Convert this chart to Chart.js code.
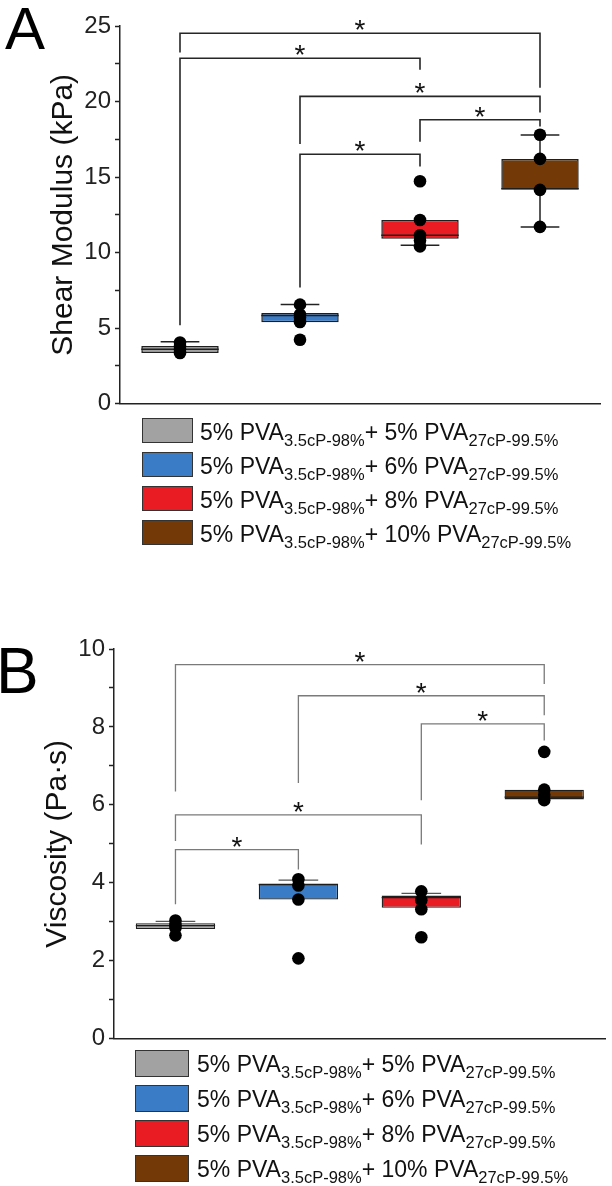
<!DOCTYPE html>
<html>
<head>
<meta charset="utf-8">
<script src="https://cdn.jsdelivr.net/npm/chart.js@4.4.1/dist/chart.umd.min.js"></script>
<style>
  html, body { margin: 0; padding: 0; background: #fff; }
  body { width: 612px; height: 1186px; position: relative; overflow: hidden; font-family: "Liberation Sans", Arial, sans-serif; color: #111; }
  canvas { position: absolute; left: 0; }
  .panel-letter { position: absolute; line-height: 1; color: #000; }
  .swatch { position: absolute; box-sizing: border-box; border: 1.5px solid #333; }
  .legend-text { position: absolute; font-size: 23px; line-height: 23px; white-space: nowrap; color: #111; }
  .legend-text sub { font-size: 16.5px; vertical-align: -6px; line-height: 0; }
</style>
</head>
<body>
<div class="panel-letter" style="left:5px;top:-1px;font-size:60px">A</div>
<canvas id="chartA" width="612" height="422" style="top:0"></canvas>
<div id="legendA"></div>
<div class="panel-letter" style="left:-4px;top:639px;font-size:64px">B</div>
<canvas id="chartB" width="612" height="437" style="top:620px"></canvas>
<div id="legendB"></div>
<script>
const FONT = '"Liberation Sans", Arial, sans-serif';

// groups = second PVA (27cP-99.5%) concentration
const groups = ["5%", "6%", "8%", "10%"];
const boxColors = ["#a2a2a2", "#3a7cc6", "#e91c24", "#733a07"];

// A: shear modulus (kPa)
const shearQ1 = [3.35, 5.39, 10.91, 14.17];
const shearQ3 = [3.81, 6.00, 12.16, 16.20];
const shearMedian = [3.60, 5.84, 11.15, 14.22];
const shearLow = [3.35, 5.39, 10.48, 11.70];
const shearHigh = [4.10, 6.56, 12.16, 17.78];
const shearPoints = [
  [4.05, 3.80, 3.60, 3.35],
  [6.55, 5.90, 5.70, 5.40, 4.23],
  [14.72, 12.16, 11.15, 10.80, 10.41],
  [17.80, 16.20, 14.15, 11.70]
];
// [from, to, top, left end, right end]
const shearBrackets = [
  [0, 3, 24.52, 23.25, 20.91],
  [0, 2, 22.86, 5.18, 22.10],
  [1, 3, 20.34, 17.19, 19.27],
  [2, 3, 18.79, 17.34, 18.35],
  [1, 2, 16.51, 7.68, 15.70]
];

// B: viscosity (Pa·s)
const viscQ1 = [2.81, 3.57, 3.36, 6.14];
const viscQ3 = [2.96, 3.98, 3.67, 6.39];
const viscMedian = [2.90, 3.95, 3.62, 6.20];
const viscLow = [2.81, 3.57, 3.36, 6.14];
const viscHigh = [3.01, 4.07, 3.73, 6.39];
const viscPoints = [
  [3.03, 2.92, 2.84, 2.65],
  [4.09, 3.93, 3.57, 2.06],
  [3.78, 3.55, 3.32, 2.60],
  [7.36, 6.39, 6.26, 6.12]
];
const viscBrackets = [
  [0, 3, 9.60, 6.34, 9.10],
  [1, 3, 8.80, 6.56, 8.30],
  [2, 3, 8.08, 6.12, 7.65],
  [0, 2, 5.74, 5.07, 4.98],
  [0, 1, 4.85, 3.45, 4.34]
];

function createBoxChart(id, cfg) {
  const extras = {
    id: 'boxExtras',
    afterDatasetDraw(chart, args) {
      if (args.meta.type !== 'bar') return;
      const {ctx, scales: {x, y}} = chart;
      ctx.save();
      ctx.lineWidth = cfg.lineWidth;
      args.meta.data.forEach((bar, i) => {
        const cx = x.getPixelForValue(i);
        const half = bar.width / 2;
        const my = y.getPixelForValue(cfg.median[i]);
        ctx.beginPath();
        ctx.strokeStyle = '#1e1e1e';
        ctx.moveTo(cx - half, my);
        ctx.lineTo(cx + half, my);
        ctx.stroke();
        ctx.strokeStyle = cfg.lineColor;
        [[cfg.q3[i], cfg.high[i]], [cfg.q1[i], cfg.low[i]]].forEach(([from, to]) => {
          if (Math.abs(to - from) < 0.01) return;
          const py = y.getPixelForValue(to);
          ctx.beginPath();
          ctx.moveTo(cx, y.getPixelForValue(from));
          ctx.lineTo(cx, py);
          ctx.moveTo(cx - half / 2, py);
          ctx.lineTo(cx + half / 2, py);
          ctx.stroke();
        });
      });
      ctx.restore();
    },
    afterDatasetsDraw(chart) {
      const {ctx, scales: {x, y}} = chart;
      ctx.save();
      ctx.strokeStyle = cfg.bracketColor;
      ctx.lineWidth = cfg.bracketWidth;
      ctx.fillStyle = '#111';
      ctx.font = '28px ' + FONT;
      ctx.textAlign = 'center';
      ctx.textBaseline = 'alphabetic';
      cfg.brackets.forEach(([a, b, top, endA, endB]) => {
        const xa = x.getPixelForValue(a);
        const xb = x.getPixelForValue(b);
        const ty = y.getPixelForValue(top);
        ctx.beginPath();
        ctx.moveTo(xa, y.getPixelForValue(endA));
        ctx.lineTo(xa, ty);
        ctx.lineTo(xb, ty);
        ctx.lineTo(xb, y.getPixelForValue(endB));
        ctx.stroke();
        ctx.fillText('*', (xa + xb) / 2, ty + 6);
      });
      ctx.restore();
    }
  };

  return new Chart(id, {
    type: 'bar',
    data: {
      labels: groups,
      datasets: [{
        type: 'bar',
        data: cfg.q1.map((v, i) => [v, cfg.q3[i]]),
        backgroundColor: boxColors,
        borderColor: '#1e1e1e',
        borderWidth: cfg.boxBorder,
        borderSkipped: false,
        barPercentage: 0.645,
        categoryPercentage: 1,
        order: 2
      }, {
        type: 'scatter',
        data: cfg.points.flatMap((pts, i) => pts.map(v => ({x: groups[i], y: v}))),
        backgroundColor: '#000',
        borderWidth: 0,
        pointRadius: 6.3,
        order: 1
      }]
    },
    options: {
      responsive: false,
      animation: false,
      events: [],
      layout: {padding: {top: cfg.padTop, right: cfg.padRight, left: 0, bottom: 0}},
      scales: {
        x: {
          type: 'category',
          offset: true,
          afterFit: (s) => { s.height = cfg.xHeight; },
          grid: {display: false},
          border: {display: true, color: '#222', width: 1.5},
          ticks: {display: false}
        },
        y: {
          type: 'linear',
          min: 0,
          max: cfg.yMax,
          afterFit: (s) => { s.width = cfg.axisLeft; },
          border: {display: true, color: '#222', width: 1.5},
          grid: {display: true, drawOnChartArea: false, drawTicks: true, tickLength: 5, tickColor: '#222', tickWidth: 1.5},
          ticks: {
            stepSize: cfg.minorStep,
            autoSkip: false,
            padding: 4,
            color: '#222',
            font: {family: FONT, size: 24},
            callback: (v) => (Math.abs(v / cfg.majorStep - Math.round(v / cfg.majorStep)) < 1e-6 ? String(v) : '')
          },
          title: {
            display: true,
            text: cfg.yTitle,
            color: '#111',
            font: {family: FONT, size: 30},
            padding: {top: cfg.titlePad, bottom: 0}
          }
        }
      },
      plugins: {
        legend: {display: false},
        tooltip: {enabled: false}
      }
    },
    plugins: [extras]
  });
}

createBoxChart('chartA', {
  q1: shearQ1, q3: shearQ3, median: shearMedian, low: shearLow, high: shearHigh,
  points: shearPoints, brackets: shearBrackets,
  yMax: 25, minorStep: 2.5, majorStep: 5, yTitle: 'Shear Modulus (kPa)',
  padTop: 26, padRight: 12, axisLeft: 120, xHeight: 15, titlePad: 46,
  lineColor: '#222', lineWidth: 1.5, bracketColor: '#262626', bracketWidth: 1.6, boxBorder: 1.5
});

createBoxChart('chartB', {
  q1: viscQ1, q3: viscQ3, median: viscMedian, low: viscLow, high: viscHigh,
  points: viscPoints, brackets: viscBrackets,
  yMax: 10, minorStep: 1, majorStep: 2, yTitle: 'Viscosity (Pa\u00b7s)',
  padTop: 29, padRight: 2, axisLeft: 114, xHeight: 15, titlePad: 40,
  lineColor: '#555', lineWidth: 1.2, bracketColor: '#7a7a7a', bracketWidth: 1.3, boxBorder: 1.3
});

function buildLegend(elId, top, pitch, boxLeft, boxW, boxH, textLeft) {
  const el = document.getElementById(elId);
  groups.forEach((g, i) => {
    const rowTop = top + i * pitch;
    const sw = document.createElement('div');
    sw.className = 'swatch';
    sw.style.cssText = `left:${boxLeft}px;top:${rowTop}px;width:${boxW}px;height:${boxH}px;background:${boxColors[i]}`;
    el.appendChild(sw);
    const txt = document.createElement('div');
    txt.className = 'legend-text';
    txt.style.left = textLeft + 'px';
    txt.style.top = (rowTop + 2.5) + 'px';
    txt.innerHTML = `5% PVA<sub>3.5cP-98%</sub>+ ${g} PVA<sub>27cP-99.5%</sub>`;
    el.appendChild(txt);
  });
}

buildLegend('legendA', 418, 34, 142, 51, 25, 200);
buildLegend('legendB', 1050, 35, 135, 54, 27, 197);
</script>
</body>
</html>
